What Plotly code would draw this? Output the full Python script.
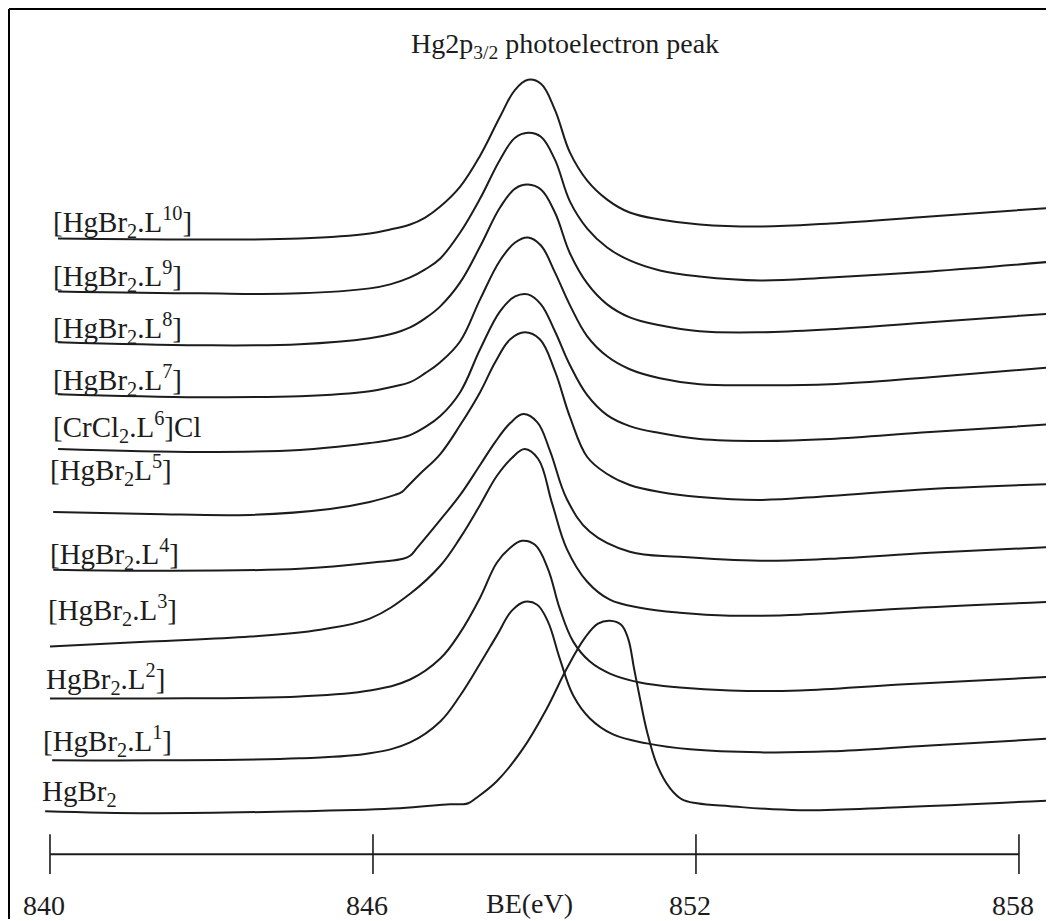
import plotly.graph_objects as go

# ---------------- data (BE in eV, intensity in arbitrary units) ----------------
names = ["[HgBr<sub>2</sub>.L<sup>10</sup>]", "[HgBr<sub>2</sub>.L<sup>9</sup>]",
         "[HgBr<sub>2</sub>.L<sup>8</sup>]", "[HgBr<sub>2</sub>.L<sup>7</sup>]",
         "[CrCl<sub>2</sub>.L<sup>6</sup>]Cl", "[HgBr<sub>2</sub>L<sup>5</sup>]",
         "[HgBr<sub>2</sub>.L<sup>4</sup>]", "[HgBr<sub>2</sub>.L<sup>3</sup>]",
         "HgBr<sub>2</sub>.L<sup>2</sup>]", "[HgBr<sub>2</sub>.L<sup>1</sup>]",
         "HgBr<sub>2</sub>"]

# stacking offsets of each spectrum (a.u.)
offsets = [661, 608, 557, 505, 450, 387, 329, 252, 200, 138, 87]

# binding energies sampled for the upper five spectra (L10 .. L6)
be_upper = [840.15, 842.79, 844.64, 845.94, 846.32, 846.69, 846.97, 847.25, 847.62, 847.99,
            848.36, 848.64, 848.88, 849.12, 849.38, 849.66, 849.98, 850.35, 850.77, 851.33,
            852.07, 853.19, 854.49, 856.35, 858.65]
int_L10 = [0, -1, 0, 5, 9, 14, 21, 32, 52, 83, 122, 149, 159, 155, 129, 86, 58, 39, 26, 19,
           14, 12, 15, 22, 31]
int_L9 = [0, -2, -2, 3, 7, 14, 22, 33, 59, 93, 132, 154, 159, 155, 132, 90, 63, 44, 31, 21,
          15, 11, 14, 20, 30]
int_L8 = [0, -3, -2, 4, 8, 15, 24, 36, 60, 96, 135, 154, 158, 153, 130, 89, 59, 38, 25, 17,
          11, 10, 13, 20, 29]
int_L7 = [0, -3, -2, 3, 7, 12, 21, 32, 53, 95, 134, 152, 157, 149, 122, 89, 58, 38, 25, 16,
          10, 9, 10, 17, 27]
int_L6 = [0, -3, -1, 6, 9, 14, 22, 33, 57, 100, 138, 153, 155, 145, 118, 84, 54, 34, 23, 16,
          10, 8, 10, 17, 25]

be_L5 = [840.06, 841.86, 843.72, 845.20, 845.94, 846.41, 846.54, 846.65, 846.87, 847.25,
         847.62, 847.99, 848.27, 848.55, 848.82, 849.10, 849.38, 849.66, 849.98, 850.35,
         850.77, 851.33, 852.07, 853.19, 854.49, 856.35, 858.65]
int_L5 = [0, -2, -3, 3, 10, 17, 20, 26, 38, 58, 87, 120, 150, 173, 180, 173, 141, 95, 55, 38,
          27, 20, 15, 12, 16, 23, 28]

be_L4 = [840.06, 841.86, 844.64, 846.13, 846.56, 846.69, 846.82, 847.25, 847.62, 847.99,
         848.27, 848.55, 848.79, 849.05, 849.29, 849.60, 850.03, 850.77, 851.70, 853.19,
         854.49, 856.35, 858.65]
int_L4 = [0, -1, 1, 8, 11, 14, 22, 50, 75, 105, 128, 147, 156, 148, 119, 71, 38, 18, 13, 9, 11, 17, 23]

be_L3 = [840.00, 841.86, 843.72, 845.02, 845.94, 846.69, 847.25, 847.62, 847.99, 848.30,
         848.58, 848.82, 849.07, 849.33, 849.60, 849.98, 850.40, 850.96, 851.70, 852.63,
         853.93, 855.79, 858.65]
int_L3 = [0, 5, 10, 17, 28, 53, 81, 109, 142, 171, 189, 198, 188, 143, 98, 65, 47, 39, 34, 31, 32, 38, 45]

be_L2 = [840.00, 841.86, 844.64, 845.94, 846.69, 847.25, 847.62, 847.99, 848.30, 848.55,
         848.77, 849.01, 849.25, 849.47, 849.72, 850.03, 850.40, 850.96, 851.70, 852.63,
         853.93, 855.79, 858.65]
int_L2 = [0, 0, 2, 8, 19, 40, 66, 101, 136, 151, 158, 154, 130, 90, 57, 37, 25, 16, 11, 8, 8, 14, 22]

be_L1 = [840.04, 841.86, 844.64, 845.94, 846.69, 847.25, 847.62, 847.99, 848.30, 848.58,
         848.82, 849.05, 849.25, 849.47, 849.72, 850.03, 850.46, 851.09, 851.89, 853.19,
         854.49, 856.35, 858.65]
int_L1 = [0, 0, 2, 7, 18, 39, 65, 97, 125, 150, 159, 156, 139, 102, 65, 42, 26, 17, 11, 8, 9, 15, 22]

be_HgBr2 = [839.91, 841.86, 844.64, 846.50, 847.43, 847.65, 847.77, 847.91, 848.30, 848.79,
            849.23, 849.60, 849.94, 850.18, 850.40, 850.61, 850.74, 850.85, 850.96, 851.09,
            851.28, 851.52, 851.74, 852.02, 852.63, 853.93, 855.79, 858.65]
int_HgBr2 = [0, -2, 0, 3, 7, 7, 8, 13, 30, 63, 103, 143, 174, 188, 191, 187, 173, 143, 113, 80,
             46, 23, 12, 8, 5, 1, 4, 11]

be_series = [be_upper, be_upper, be_upper, be_upper, be_upper,
             be_L5, be_L4, be_L3, be_L2, be_L1, be_HgBr2]
int_series = [int_L10, int_L9, int_L8, int_L7, int_L6,
              int_L5, int_L4, int_L3, int_L2, int_L1, int_HgBr2]

tick_vals = [840, 846, 852, 858]
tick_text = ["840", "846", "852", "858"]
x_title = "BE(eV)"
chart_title = "Hg2p<sub>3/2</sub> photoelectron peak"

# ---------------- layout parameters ----------------
# the page adds an 8px body margin, so the figure is 8px smaller than the window
W, H = 1046, 913
FONT = "Liberation Serif"
INK = "#1c1c1c"
label_lift = [17, 15, 14, 14, 22, 42, 16, 37, 20, 19, 18]   # label height above its spectrum
label_x = [840.02, 840.02, 840.02, 840.02, 840.02, 839.96, 839.96, 839.93, 839.88, 839.84, 839.82]
axis_level = 44
tick_half = 20

fig = go.Figure()

for be, inten, off in zip(be_series, int_series, offsets):
    fig.add_trace(go.Scatter(
        x=be, y=[off + v for v in inten], mode="lines",
        line=dict(color=INK, width=2, shape="spline", smoothing=1.1),
        hoverinfo="skip", showlegend=False))

# energy axis line with crossing tick marks
fig.add_trace(go.Scatter(
    x=tick_vals, y=[axis_level] * len(tick_vals), mode="lines",
    line=dict(color=INK, width=2),
    error_y=dict(type="constant", value=tick_half, symmetric=True, width=0,
                 thickness=1.6, color=INK),
    hoverinfo="skip", showlegend=False))

annotations = []
for name, off, lift, lx in zip(names, offsets, label_lift, label_x):
    annotations.append(dict(x=lx, y=off + lift, text=name, showarrow=False,
                            xanchor="left", yanchor="middle",
                            font=dict(family=FONT, size=29, color=INK)))
annotations.append(dict(x=848.9, y=-5, text=x_title, showarrow=False,
                        xanchor="center", yanchor="middle",
                        font=dict(family=FONT, size=28, color=INK)))
annotations.append(dict(x=849.57, y=854, text=chart_title, showarrow=False,
                        xanchor="center", yanchor="middle",
                        font=dict(family=FONT, size=28, color=INK)))

fx = 1 / W
fy = 1 - 1 / H
shapes = [
    dict(type="line", xref="paper", yref="paper", x0=fx, x1=fx, y0=0, y1=fy,
         line=dict(color="black", width=2)),
    dict(type="line", xref="paper", yref="paper", x0=fx, x1=1, y0=fy, y1=fy,
         line=dict(color="black", width=2)),
]

fig.update_layout(
    width=W, height=H,
    margin=dict(l=0, r=0, t=0, b=0),
    paper_bgcolor="white", plot_bgcolor="white",
    xaxis=dict(range=[839.220, 858.651], anchor="free", position=(H - 880) / H,
               showgrid=False, zeroline=False, showline=False, ticks="",
               tickvals=tick_vals, ticktext=tick_text, ticklabelshift=-6,
               tickfont=dict(family=FONT, size=28, color=INK), fixedrange=True),
    yaxis=dict(range=[-21, 892], visible=False, showgrid=False, zeroline=False,
               fixedrange=True),
    annotations=annotations,
    shapes=shapes,
)

fig.write_html("out.html")
